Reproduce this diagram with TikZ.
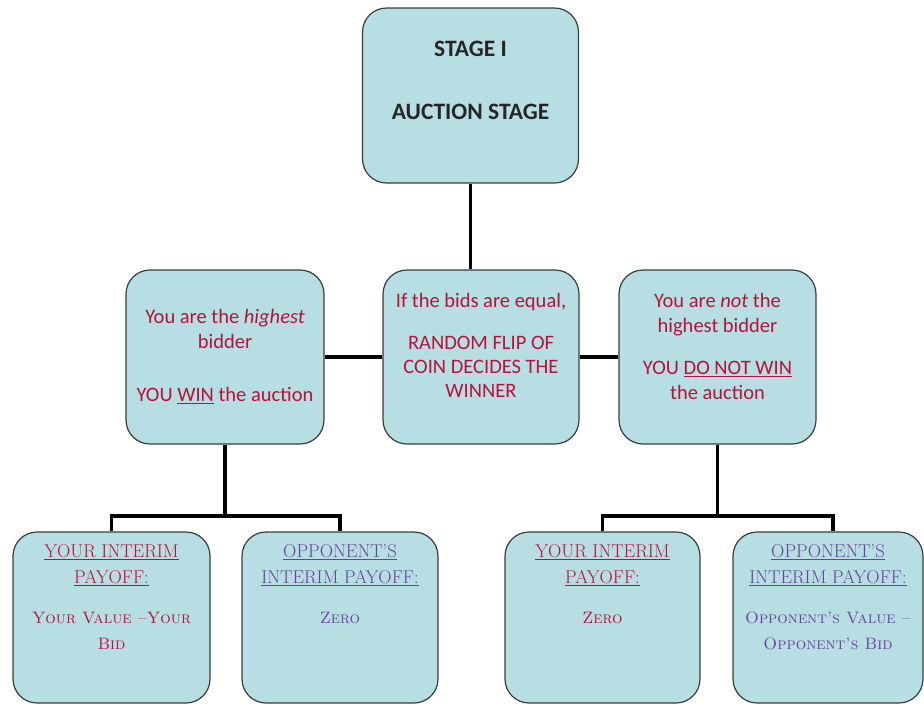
\documentclass[tikz,border=0pt]{standalone}
\usepackage{fontspec}
\newfontfamily\calibri{Carlito}
\definecolor{boxfill}{HTML}{B7DEE2}
\definecolor{boxline}{HTML}{3C3C3C}
\definecolor{auctred}{HTML}{B8123A}
\definecolor{auctpurple}{HTML}{6A40A0}
\tikzset{
  stagebox/.style={draw=boxline, line width=1.2pt, fill=boxfill, rounded corners=24pt, inner sep=0pt},
  headtext/.style={font=\calibri\bfseries\fontsize{23.5}{27}\selectfont, text=black!85},
  midtext/.style={font=\calibri\fontsize{20.5}{25}\selectfont, text=auctred},
  paytext/.style={font=\fontsize{18.5}{26}\selectfont},
  link/.style={line width=3.8pt, black},
}
\newcommand{\boxtext}[4]{\parbox[c][#2][t]{#1}{\centering\vspace*{#3}#4}}
\newcommand{\paybody}[1]{{\fontsize{16.5}{26}\selectfont\textsc{#1}}}
\begin{document}
\begin{tikzpicture}[x=1pt,y=-1pt]
    \useasboundingbox (0,0) rectangle (924,705);
    \node[stagebox,headtext](stage) at (470.5,95.5)
        {\boxtext{216pt}{175pt}{30pt}{\strut STAGE I\\[36pt] AUCTION STAGE}};
    \node[stagebox,midtext](win)  at (225,357)
        {\boxtext{198pt}{174pt}{36pt}{\strut You are the \textit{highest}\\ bidder\\[28pt] YOU \underline{WIN} the auction}};
    \node[stagebox,midtext](tie)  at (481,357)
        {\boxtext{196pt}{174pt}{20pt}{\strut If the bids are equal,\\[17pt] RANDOM FLIP OF\\[-1pt] COIN DECIDES THE\\[-1pt] WINNER}};
    \node[stagebox,midtext](lose) at (717.5,357)
        {\boxtext{197pt}{174pt}{20pt}{\strut You are \textit{not} the\\ highest bidder\\[17pt] YOU \underline{DO NOT WIN}\\ the auction}};

    \node[stagebox,paytext,text=auctred](yourwin)   at (111.5,617.5)
        {\boxtext{197pt}{171pt}{7pt}{\strut\underline{YOUR INTERIM}\\ \underline{PAYOFF:}\\[14.5pt] \paybody{Your Value –Your}\\ \paybody{Bid}}};
    \node[stagebox,paytext,text=auctpurple](oppwin) at (340,617.5)
        {\boxtext{196pt}{171pt}{7pt}{\strut\underline{OPPONENT'S}\\ \underline{INTERIM PAYOFF:}\\[14.5pt] \paybody{Zero}}};
    \node[stagebox,paytext,text=auctred](yourlose)  at (602.5,617.5)
        {\boxtext{195pt}{171pt}{7pt}{\strut\underline{YOUR INTERIM}\\ \underline{PAYOFF:}\\[14.5pt] \paybody{Zero}}};
    \node[stagebox,paytext,text=auctpurple](opplose) at (828,617.5)
        {\boxtext{190pt}{171pt}{7pt}{\strut\underline{OPPONENT'S}\\ \underline{INTERIM PAYOFF:}\\[14.5pt] \paybody{Opponent's Value –}\\ \paybody{Opponent's Bid}}};

    \path (win.south)  ++(0,71) coordinate (forkwin);
    \path (lose.south) ++(0,71) coordinate (forklose);

    \draw[link] (stage.south) -- (stage.south |- tie.north);
    \draw[link] (win.east)    -- (tie.west);
    \draw[link] (tie.east)    -- (lose.west);
    \draw[link] (win.south)   -- (forkwin);
    \draw[link] (lose.south)  -- (forklose);
    \draw[link] (yourwin.north)  |- (forkwin)  -| (oppwin.north);
    \draw[link] (yourlose.north) |- (forklose) -| ([xshift=5pt]opplose.north);
\end{tikzpicture}
\end{document}
